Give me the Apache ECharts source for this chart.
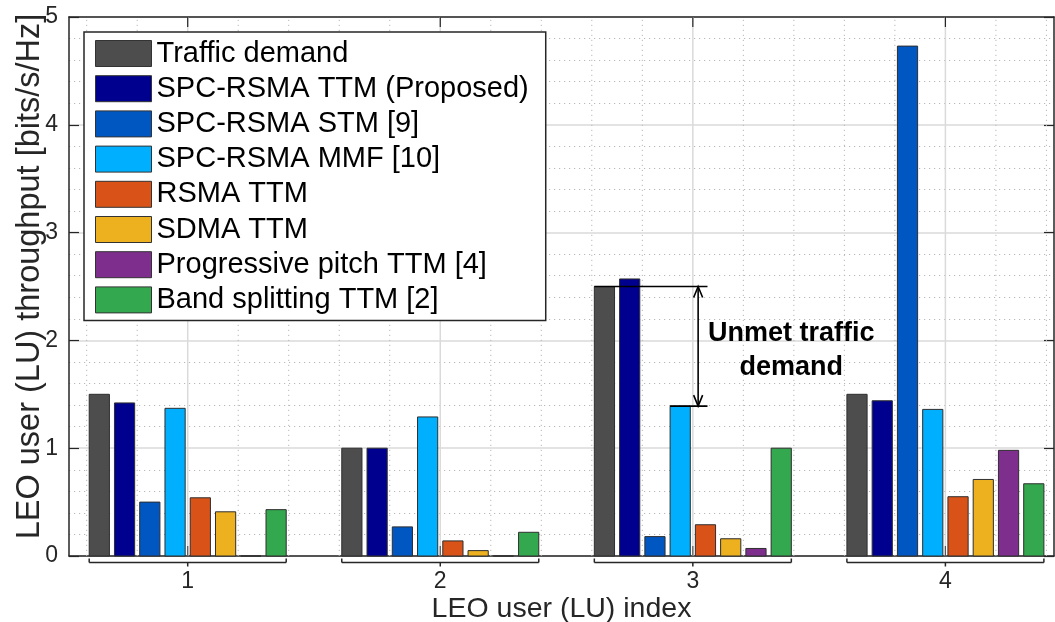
<!DOCTYPE html>
<html>
<head>
<meta charset="utf-8">
<title>LEO user throughput</title>
<script src="https://cdn.jsdelivr.net/npm/echarts@6/dist/echarts.min.js"></script>
<style>
  html, body { margin: 0; padding: 0; background: #fff; }
  #chart { width: 1055px; height: 622px; }
</style>
</head>
<body>
<div id="chart"></div>
<script>
// ---- data -------------------------------------------------------------
const users = ['1', '2', '3', '4'];
const userPositions = [1, 2, 3, 4];
const yTicks = [0, 1, 2, 3, 4, 5];

const seriesNames = [
  'Traffic demand',
  'SPC-RSMA TTM (Proposed)',
  'SPC-RSMA STM [9]',
  'SPC-RSMA MMF [10]',
  'RSMA TTM',
  'SDMA TTM',
  'Progressive pitch TTM [4]',
  'Band splitting TTM [2]'
];
const trafficDemand       = [1.50, 1.00, 2.50, 1.50];
const spcRsmaTtm          = [1.42, 1.00, 2.57, 1.44];
const spcRsmaStm          = [0.50, 0.27, 0.18, 4.73];
const spcRsmaMmf          = [1.37, 1.29, 1.39, 1.36];
const rsmaTtm             = [0.54, 0.14, 0.29, 0.55];
const sdmaTtm             = [0.41, 0.05, 0.16, 0.71];
const progressivePitchTtm = [0.00, 0.00, 0.07, 0.98];
const bandSplittingTtm    = [0.43, 0.22, 1.00, 0.67];

const annotationText = 'Unmet traffic\ndemand';

// ---- styling ----------------------------------------------------------
const seriesValues = [trafficDemand, spcRsmaTtm, spcRsmaStm, spcRsmaMmf,
                      rsmaTtm, sdmaTtm, progressivePitchTtm, bandSplittingTtm];
const seriesColors = ['#4d4d4d', '#00008f', '#0057c1', '#00b0ff',
                      '#d95319', '#edb120', '#7e2f8e', '#34a84f'];

const FONT = '"Liberation Sans", Arial, Helvetica, sans-serif';
const X_MIN = 0.53, X_MAX = 4.43;
const Y_MIN = 0, Y_MAX = 5;
const BAR_PITCH = 0.1;
const BAR_WIDTH = 0.08;
const GROUP_HALF = 0.39;
const AXIS_COLOR = '#262626';
const MAJOR_GRID = '#dadada';
const MINOR_GRID = '#b8b8b8';

// ---- renderers ----------------------------------------------------------
function barRenderer(slot, count) {
  return function (params, api) {
    const xc = api.value(0) + (slot - (count - 1) / 2) * BAR_PITCH;
    const v = api.value(1);
    const p0 = api.coord([xc - BAR_WIDTH / 2, v]);
    const p1 = api.coord([xc + BAR_WIDTH / 2, 0]);
    return {
      type: 'rect',
      shape: { x: p0[0], y: p0[1], width: p1[0] - p0[0], height: p1[1] - p0[1] },
      style: { fill: api.visual('color'), stroke: '#2e2e2e', lineWidth: 1 }
    };
  };
}

function line(a, b, style) {
  return { type: 'line', shape: { x1: a[0], y1: a[1], x2: b[0], y2: b[1] }, style: style };
}

// vertical major/minor grid lines behind the bars
function gridRenderer(params, api) {
  const children = [];
  const minorStep = 0.2;
  const start = Math.ceil(X_MIN / minorStep - 1e-9);
  const end = Math.floor(X_MAX / minorStep + 1e-9);
  for (let k = start; k <= end; k++) {
    const x = +(k * minorStep).toFixed(6);
    const isMajor = Math.abs(x - Math.round(x)) < 1e-6;
    const a = api.coord([x, Y_MIN]), b = api.coord([x, Y_MAX]);
    if (isMajor) {
      children.push(line(a, b, { stroke: MAJOR_GRID, lineWidth: 1.5 }));
    } else {
      children.push(line(a, b, { stroke: MINOR_GRID, lineWidth: 1, lineDash: [1.2, 3.8] }));
    }
  }
  return { type: 'group', children: children, silent: true };
}

// group brackets under the x axis and inward ticks on the top/bottom edges
function frameRenderer(params, api) {
  const children = [];
  const stroke = { stroke: AXIS_COLOR, lineWidth: 1.5 };
  userPositions.forEach(function (u) {
    const l = api.coord([u - GROUP_HALF, Y_MIN]);
    const r = api.coord([u + GROUP_HALF, Y_MIN]);
    const c = api.coord([u, Y_MIN]);
    const t = api.coord([u, Y_MAX]);
    const by = l[1] + 6.5;
    children.push(line([l[0], by], [r[0], by], stroke));
    children.push(line([l[0], by], [l[0], by - 4], stroke));
    children.push(line([r[0], by], [r[0], by - 4], stroke));
    children.push(line([c[0], by], [c[0], by + 4], stroke));
    children.push(line([c[0], c[1]], [c[0], c[1] - 10], { stroke: '#555', lineWidth: 1.2 }));
    children.push(line([t[0], t[1]], [t[0], t[1] + 10], { stroke: AXIS_COLOR, lineWidth: 1.2 }));
  });
  return { type: 'group', children: children, silent: true };
}

// "unmet traffic demand" marker on user 3
function annotationRenderer(params, api) {
  const u = 3, idx = userPositions.indexOf(u);
  const demand = trafficDemand[idx];
  const served = spcRsmaMmf[idx];
  const nBars = seriesValues.length;
  const demandLeft = u + (0 - (nBars - 1) / 2) * BAR_PITCH - BAR_WIDTH / 2;
  const servedLeft = u + (3 - (nBars - 1) / 2) * BAR_PITCH - BAR_WIDTH / 2;
  const lineEnd = u + 0.058;
  const arrowX = u + 0.021;
  const s = { stroke: '#000', lineWidth: 1.6 };
  const top = api.coord([arrowX, demand]);
  const bot = api.coord([arrowX, served]);
  const head = 11, half = 4.5;
  const txt = api.coord([u + 0.39, (demand + served) / 2 - 0.035]);
  return {
    type: 'group', silent: true,
    children: [
      line(api.coord([demandLeft, demand]), api.coord([lineEnd, demand]), s),
      line(api.coord([servedLeft, served]), api.coord([lineEnd, served]), s),
      line(top, bot, s),
      { type: 'polyline', shape: { points: [[top[0] - half, top[1] + head], top, [top[0] + half, top[1] + head]] }, style: { stroke: '#000', lineWidth: 1.6, fill: null } },
      { type: 'polyline', shape: { points: [[bot[0] - half, bot[1] - head], bot, [bot[0] + half, bot[1] - head]] }, style: { stroke: '#000', lineWidth: 1.6, fill: null } },
      {
        type: 'text', x: txt[0], y: txt[1],
        style: {
          text: annotationText, fill: '#000', fontFamily: FONT, fontWeight: 'bold',
          fontSize: 27, lineHeight: 34, align: 'center', verticalAlign: 'middle'
        }
      }
    ]
  };
}

// ---- series -------------------------------------------------------------
const series = [
  { type: 'custom', name: '__grid', renderItem: gridRenderer, data: [[X_MIN, Y_MIN]],
    encode: { x: 0, y: 1 }, z: 1, silent: true, clip: false, legendHoverLink: false }
];
seriesNames.forEach(function (name, i) {
  series.push({
    type: 'custom',
    name: name,
    renderItem: barRenderer(i, seriesNames.length),
    data: userPositions.map(function (u, k) { return [u, seriesValues[i][k]]; }),
    encode: { x: 0, y: 1 },
    itemStyle: { color: seriesColors[i] },
    z: 3,
    clip: false
  });
});
series.push(
  { type: 'custom', name: '__frame', renderItem: frameRenderer, data: [[X_MIN, Y_MIN]],
    encode: { x: 0, y: 1 }, z: 4, silent: true, clip: false },
  { type: 'custom', name: '__annotation', renderItem: annotationRenderer, data: [[X_MIN, Y_MIN]],
    encode: { x: 0, y: 1 }, z: 5, silent: true, clip: false }
);

// ---- chart ----------------------------------------------------------------
const chart = echarts.init(document.getElementById('chart'), null, { renderer: 'canvas' });
chart.setOption({
  animation: false,
  backgroundColor: '#fff',
  textStyle: { fontFamily: FONT },
  grid: { left: 69, right: 1, top: 17, bottom: 66, containLabel: false, outerBoundsMode: 'none' },
  legend: {
    data: seriesNames,
    orient: 'vertical',
    left: 84, top: 32,
    itemWidth: 56, itemHeight: 26, itemGap: 6.2,
    padding: [7, 17, 6, 11],
    backgroundColor: '#fff',
    borderColor: AXIS_COLOR, borderWidth: 1.5, borderRadius: 0,
    icon: 'rect',
    itemStyle: { borderColor: '#333', borderWidth: 1 },
    textStyle: { fontFamily: FONT, fontSize: 29, color: '#000', lineHeight: 26 },
    selectedMode: false,
    z: 10
  },
  xAxis: [
    {
      type: 'value', min: X_MIN, max: X_MAX, position: 'bottom',
      name: 'LEO user (LU) index', nameLocation: 'middle', nameGap: 39, nameMoveOverlap: false,
      nameTextStyle: { fontFamily: FONT, fontSize: 28.5, color: AXIS_COLOR },
      axisLine: { show: true, lineStyle: { color: AXIS_COLOR, width: 1.5 } },
      axisTick: { show: false },
      axisLabel: {
        customValues: userPositions,
        formatter: function (v) { const i = userPositions.indexOf(v); return i >= 0 ? users[i] : ''; },
        fontFamily: FONT, fontSize: 23, color: AXIS_COLOR, margin: 14
      },
      splitLine: { show: false }
    },
    {
      type: 'value', min: X_MIN, max: X_MAX, position: 'top',
      axisLine: { show: true, onZero: false, lineStyle: { color: AXIS_COLOR, width: 1.5 } },
      axisTick: { show: false }, axisLabel: { show: false }, splitLine: { show: false }
    }
  ],
  yAxis: [
    {
      type: 'value', min: Y_MIN, max: Y_MAX, interval: 1, position: 'left',
      name: 'LEO user (LU) throughput [bits/s/Hz]', nameLocation: 'middle', nameGap: 22,
      nameMoveOverlap: false,
      nameTextStyle: { fontFamily: FONT, fontSize: 32.5, color: AXIS_COLOR, padding: [0, 0, 0, 20] },
      axisLine: { show: true, lineStyle: { color: AXIS_COLOR, width: 1.5 } },
      axisTick: { show: true, inside: true, length: 10, lineStyle: { color: AXIS_COLOR, width: 1.2 } },
      axisLabel: {
        formatter: function (v) { return yTicks.indexOf(v) >= 0 ? String(v) : ''; },
        fontFamily: FONT, fontSize: 23, color: AXIS_COLOR, margin: 11
      },
      splitLine: { show: true, lineStyle: { color: MAJOR_GRID, width: 1.5 } },
      minorTick: { show: false, splitNumber: 5 },
      minorSplitLine: { show: true, lineStyle: { color: MINOR_GRID, width: 1, type: [1.2, 3.8] } }
    },
    {
      type: 'value', min: Y_MIN, max: Y_MAX, interval: 1, position: 'right',
      axisLine: { show: true, onZero: false, lineStyle: { color: AXIS_COLOR, width: 1.5 } },
      axisTick: { show: true, inside: true, length: 10, lineStyle: { color: AXIS_COLOR, width: 1.2 } },
      axisLabel: { show: false }, splitLine: { show: false }
    }
  ],
  series: series
});
</script>
</body>
</html>
